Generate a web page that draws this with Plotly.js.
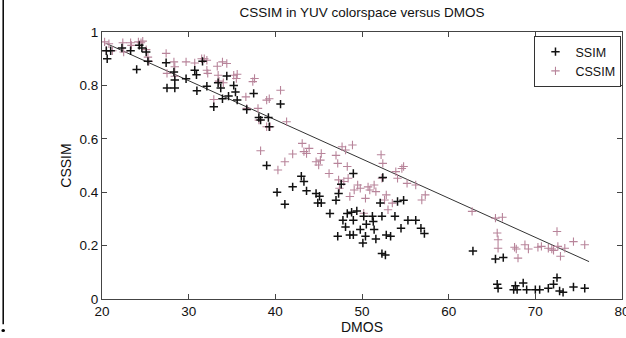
<!DOCTYPE html>
<html>
<head>
<meta charset="utf-8">
<script src="https://cdn.plot.ly/plotly-3.0.1.min.js"></script>
<style>html,body{margin:0;padding:0;background:#fff;}#chart{width:626px;height:338px;}</style>
</head>
<body>
<div id="chart"></div>
<script>
// SSIM (black) values
const ssimX = [20.5,20.6,21.0,22.3,23.3,24.0,24.3,24.6,25.1,25.3,27.4,27.5,28.3,28.4,28.4,29.7,30.7,30.9,30.95,31.6,32.1,32.9,33.4,33.7,33.9,34.4,34.6,35.2,35.4,35.6,36.7,37.5,38.1,38.3,39.0,39.2,39.3,40.6,40.2,41.1,42.0,43.0,43.3,43.6,44.7,44.9,45.1,45.3,46.3,47.0,47.2,47.3,47.6,47.8,48.1,48.3,48.6,48.8,49.0,49.0,49.0,49.4,49.8,50.1,50.2,50.4,50.5,51.2,51.3,51.4,51.6,52.1,52.3,52.3,52.4,52.7,52.8,53.3,53.8,54.1,54.5,54.8,55.3,56.2,56.8,57.2,62.8,65.4,65.6,65.7,66.3,67.5,67.7,67.9,68.6,69.0,70.0,70.5,71.5,72.1,72.5,72.8,73.2,74.4,75.7];
const ssimY = [0.93,0.90,0.93,0.94,0.93,0.86,0.95,0.94,0.925,0.89,0.885,0.79,0.85,0.79,0.82,0.825,0.857,0.84,0.78,0.89,0.797,0.72,0.81,0.79,0.75,0.835,0.76,0.80,0.775,0.745,0.71,0.77,0.68,0.67,0.50,0.68,0.645,0.73,0.40,0.355,0.42,0.46,0.44,0.405,0.395,0.36,0.385,0.36,0.32,0.37,0.235,0.395,0.43,0.295,0.27,0.32,0.24,0.325,0.47,0.295,0.24,0.33,0.26,0.21,0.31,0.235,0.28,0.31,0.29,0.26,0.225,0.36,0.31,0.17,0.455,0.165,0.24,0.235,0.31,0.365,0.265,0.37,0.295,0.295,0.265,0.245,0.18,0.15,0.055,0.04,0.155,0.035,0.05,0.035,0.06,0.035,0.035,0.035,0.04,0.055,0.08,0.03,0.025,0.045,0.04];

// CSSIM (gray/pink) values
const cssimX = [20.3,20.5,20.8,21.2,22.4,22.5,23.3,23.4,24.2,24.5,24.7,25.1,25.3,25.4,27.4,27.5,28.3,28.4,28.4,29.7,30.7,31.5,31.8,32.1,32.1,32.2,32.9,33.3,33.4,33.5,33.9,34.0,34.4,35.2,35.5,35.6,36.6,36.7,37.4,37.6,38.0,38.1,38.3,39.0,39.0,39.3,39.4,40.6,40.3,41.1,41.3,42.0,43.1,43.3,43.6,43.9,44.7,45.0,45.2,45.3,46.2,47.0,47.2,47.3,47.4,47.7,47.9,48.1,48.3,48.4,48.6,48.9,49.1,49.5,49.8,50.2,50.4,50.7,50.9,51.4,51.6,52.2,52.3,52.4,52.6,52.8,53.0,53.5,53.9,54.1,54.6,54.8,55.2,56.2,56.9,57.3,62.7,65.4,65.6,65.7,65.7,66.2,67.6,67.8,68.0,68.8,69.2,70.3,70.7,71.5,71.9,72.1,72.5,72.6,72.9,73.4,74.4,75.7];
const cssimY = [0.963,0.93,0.956,0.93,0.96,0.925,0.96,0.95,0.963,0.96,0.966,0.934,0.906,0.89,0.92,0.845,0.888,0.87,0.834,0.888,0.884,0.90,0.90,0.857,0.894,0.845,0.747,0.872,0.838,0.816,0.888,0.81,0.882,0.838,0.826,0.842,0.757,0.714,0.814,0.826,0.714,0.67,0.555,0.645,0.745,0.75,0.645,0.782,0.483,0.514,0.664,0.543,0.583,0.552,0.545,0.564,0.514,0.502,0.52,0.545,0.47,0.538,0.508,0.446,0.415,0.57,0.44,0.558,0.496,0.452,0.384,0.577,0.408,0.427,0.415,0.321,0.377,0.42,0.408,0.427,0.402,0.54,0.452,0.508,0.371,0.39,0.334,0.359,0.477,0.452,0.489,0.496,0.433,0.427,0.371,0.39,0.328,0.303,0.247,0.222,0.19,0.306,0.194,0.187,0.153,0.203,0.187,0.194,0.197,0.19,0.187,0.182,0.253,0.197,0.16,0.19,0.215,0.203];

// Linear fit line endpoints
const fitX = [20.5, 76.2];
const fitY = [0.957, 0.14];

const xTicks = [20,30,40,50,60,70,80];
const yTicks = [0,0.2,0.4,0.6,0.8,1];
const yTickText = ['0','0.2','0.4','0.6','0.8','1'];

const FONT = 'Liberation Sans, Arial, sans-serif';

const traces = [
  {x: fitX, y: fitY, mode: 'lines', line: {color: '#333', width: 1}, showlegend: false, hoverinfo: 'skip'},
  {x: cssimX, y: cssimY, mode: 'markers', name: 'CSSIM',
   marker: {symbol: 'cross-thin', size: 6, color: '#b8849a', line: {color: '#b8849a', width: 1.1}}},
  {x: ssimX, y: ssimY, mode: 'markers', name: 'SSIM',
   marker: {symbol: 'cross-thin', size: 6, color: '#111', line: {color: '#111', width: 1.5}}}
];

const axisCommon = {
  showline: true, linecolor: '#444', linewidth: 1, mirror: 'ticks',
  ticks: 'inside', ticklen: 5, tickcolor: '#444', showgrid: false, zeroline: false,
  ticklabeloverflow: 'allow',
  tickfont: {family: FONT, size: 13.5, color: '#111'}
};

const layout = {
  width: 626, height: 338,
  margin: {l: 102, r: 4, t: 32, b: 39},
  paper_bgcolor: '#fff', plot_bgcolor: '#fff',
  font: {family: FONT, color: '#111'},
  title: {text: 'CSSIM in YUV colorspace versus DMOS', font: {family: FONT, size: 13.5, color: '#111'},
          x: 0.5, xref: 'paper', y: 0.965, yanchor: 'middle'},
  xaxis: Object.assign({}, axisCommon, {range: [20, 80], tickvals: xTicks, ticktext: xTicks.map(String),
          title: {text: 'DMOS', font: {family: FONT, size: 14, color: '#111'}, standoff: 1}}),
  yaxis: Object.assign({}, axisCommon, {range: [0, 1], tickvals: yTicks, ticktext: yTickText,
          title: {text: 'CSSIM', font: {family: FONT, size: 14, color: '#111'}, standoff: 4}}),
  legend: {x: 0.999, y: 0.985, xanchor: 'right', yanchor: 'top', bgcolor: '#fff',
           bordercolor: '#333', borderwidth: 1, font: {family: FONT, size: 12.5, color: '#111'},
           traceorder: 'reversed', tracegroupgap: 0, itemwidth: 30, tracegroupgap: 0},
  shapes: [
    {type: 'line', xref: 'paper', yref: 'paper', x0: -0.19, x1: -0.19, y0: 1.12, y1: -0.095,
     line: {color: '#000', width: 1.5}},
    {type: 'circle', xref: 'paper', yref: 'paper', x0: -0.1935, x1: -0.1865, y0: -0.112, y1: -0.124,
     fillcolor: '#000', line: {color: '#000', width: 0}}
  ],
  showlegend: true
};

Plotly.newPlot('chart', traces, layout, {displayModeBar: false, staticPlot: true});
</script>
</body>
</html>
